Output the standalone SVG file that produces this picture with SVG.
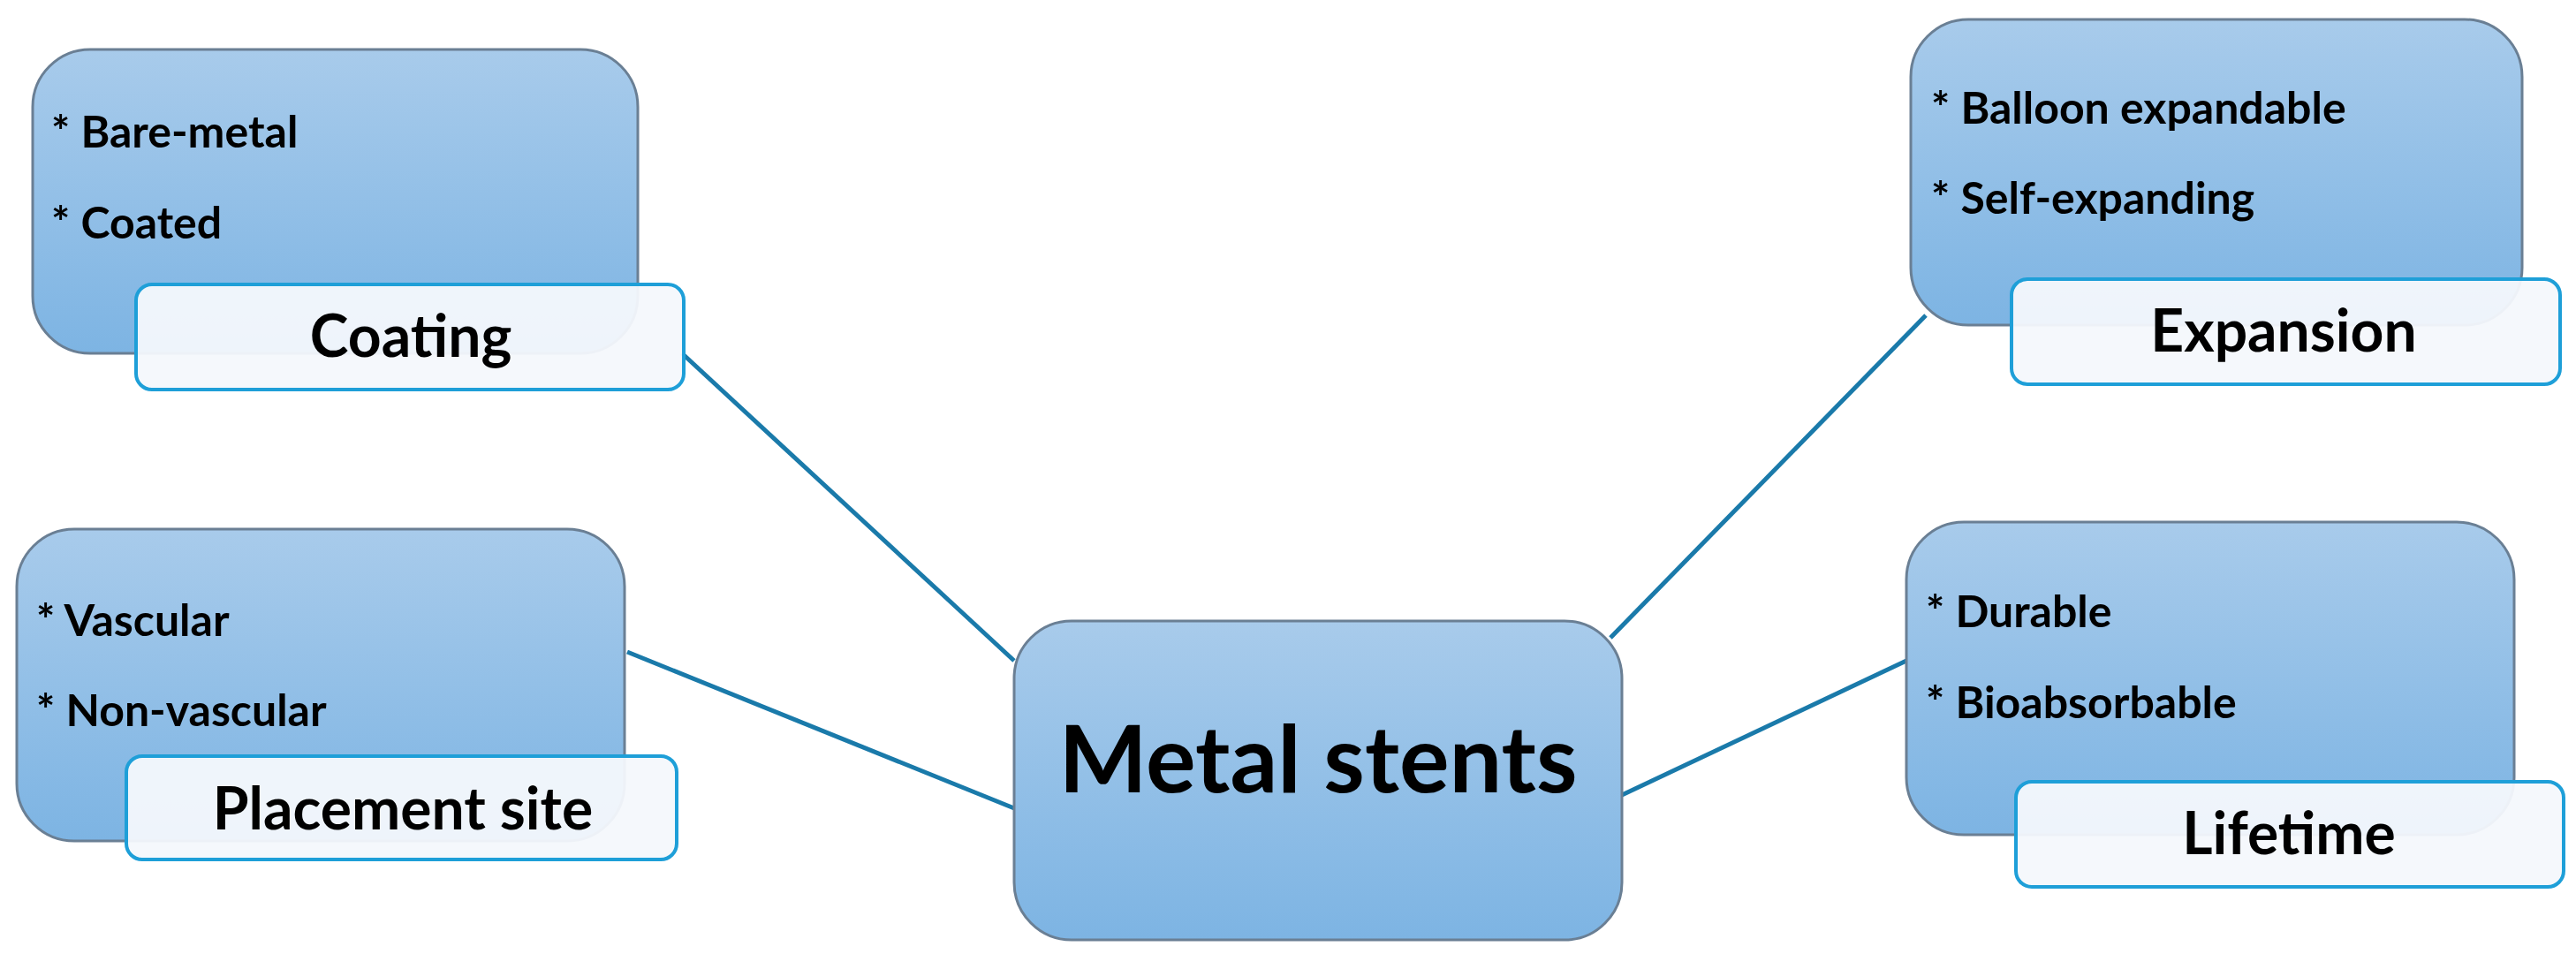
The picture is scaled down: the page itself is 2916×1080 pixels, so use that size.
<svg xmlns="http://www.w3.org/2000/svg" width="2916" height="1080" viewBox="0 0 2916 1080">
<defs>
<linearGradient id="g" x1="0" y1="0" x2="0" y2="1"><stop offset="0" stop-color="#a8cbeb"/><stop offset="1" stop-color="#7db4e3"/></linearGradient>
<style>
.box{fill:url(#g);stroke:#6a7f94;stroke-width:3}
.lab{fill:#f4f8fc;fill-opacity:0.95;stroke:#1e9fd8;stroke-width:4}
text{font-family:Lato,"Open Sans",sans-serif;font-weight:bold;fill:#000}
.b{font-size:50px}
.t{font-size:66px;text-anchor:middle}
.c{stroke:#1a7aaa;stroke-width:5;fill:none}
</style>
</defs>
<rect width="2916" height="1080" fill="#fff"/>
<g id="connectors">
<line class="c" x1="772" y1="400" x2="1148" y2="748"/>
<line class="c" x1="2180" y1="357" x2="1823" y2="722"/>
<line class="c" x1="710" y1="738" x2="1148" y2="915"/>
<line class="c" x1="2158" y1="748" x2="1836" y2="900"/>
</g>
<g id="coating">
<rect class="box" x="37" y="56" width="685" height="344" rx="65"/>
<text class="b" x="58" y="167">* Bare-metal</text>
<text class="b" x="58" y="270">* Coated</text>
<rect class="lab" x="154" y="322" width="620" height="119" rx="18"/>
<text class="t" x="465" y="404">Coating</text>
</g>
<g id="expansion">
<rect class="box" x="2163" y="22" width="692" height="346" rx="65"/>
<text class="b" x="2186" y="140">* Balloon expandable</text>
<text class="b" x="2186" y="242">* Self-expanding</text>
<rect class="lab" x="2277" y="316" width="621" height="119" rx="18"/>
<text class="t" x="2585" y="398">Expansion</text>
</g>
<g id="placement">
<rect class="box" x="19" y="599" width="688" height="353" rx="65"/>
<text class="b" x="41" y="720">* Vascular</text>
<text class="b" x="41" y="822">* Non-vascular</text>
<rect class="lab" x="143" y="856" width="623" height="117" rx="18"/>
<text class="t" x="456" y="939">Placement site</text>
</g>
<g id="lifetime">
<rect class="box" x="2158" y="591" width="688" height="354" rx="65"/>
<text class="b" x="2180" y="710">* Durable</text>
<text class="b" x="2180" y="813">* Bioabsorbable</text>
<rect class="lab" x="2282" y="885" width="620" height="119" rx="18"/>
<text class="t" x="2591" y="967">Lifetime</text>
</g>
<g id="center">
<rect class="box" x="1148" y="703" width="688" height="361" rx="65"/>
<text x="1492" y="897" style="font-size:106px;text-anchor:middle">Metal stents</text>
</g>
</svg>
